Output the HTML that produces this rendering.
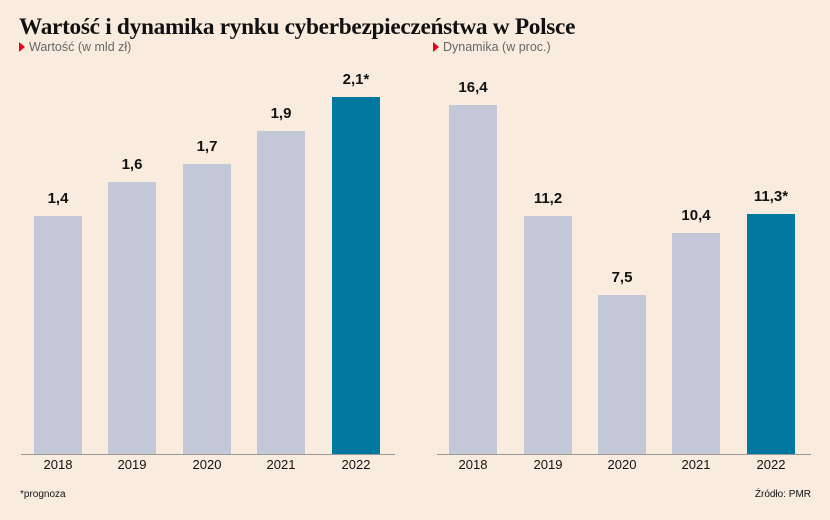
<!DOCTYPE html>
<html><head><meta charset="utf-8"><style>
html,body{margin:0;padding:0;}
body{width:830px;height:520px;background:#f9ecdf;position:relative;overflow:hidden;font-family:"Liberation Sans",sans-serif;}
.t{position:absolute;left:19px;top:14px;font-family:"Liberation Serif",serif;font-weight:bold;font-size:23.3px;color:#111;letter-spacing:-0.3px;white-space:nowrap;}
.s{position:absolute;top:40px;font-size:12.5px;color:#666;white-space:nowrap;}
.s:before{content:"";display:inline-block;width:0;height:0;border-left:6px solid #e30613;border-top:5px solid transparent;border-bottom:5px solid transparent;margin-right:4px;vertical-align:-1px;}
.b{position:absolute;width:48px;background:#c2c8d8;bottom:65px;}
.b.h{background:#00789f;}
.v{position:absolute;width:80px;text-align:center;font-weight:bold;font-size:15px;color:#111;}
.y{position:absolute;top:457px;width:80px;text-align:center;font-size:13px;color:#111;}
.ax{position:absolute;top:454px;height:1px;background:#999;}
.f{position:absolute;top:489px;font-size:10px;color:#111;}
</style></head><body>
<div class="t">Wartość i dynamika rynku cyberbezpieczeństwa w Polsce</div>
<div class="s" style="left:19px">Wartość (w mld zł)</div>
<div class="s" style="left:433px">Dynamika (w proc.)</div>

<div class="b" style="left:34px;top:216px"></div>
<div class="b" style="left:108px;top:182px"></div>
<div class="b" style="left:183px;top:164px"></div>
<div class="b" style="left:257px;top:131px"></div>
<div class="b h" style="left:332px;top:97px"></div>
<div class="v" style="left:18px;top:190px">1,4</div>
<div class="v" style="left:92px;top:156px">1,6</div>
<div class="v" style="left:167px;top:138px">1,7</div>
<div class="v" style="left:241px;top:105px">1,9</div>
<div class="v" style="left:316px;top:71px">2,1*</div>

<div class="b" style="left:449px;top:105px"></div>
<div class="b" style="left:524px;top:216px"></div>
<div class="b" style="left:598px;top:295px"></div>
<div class="b" style="left:672px;top:233px"></div>
<div class="b h" style="left:747px;top:214px"></div>
<div class="v" style="left:433px;top:79px">16,4</div>
<div class="v" style="left:508px;top:190px">11,2</div>
<div class="v" style="left:582px;top:269px">7,5</div>
<div class="v" style="left:656px;top:207px">10,4</div>
<div class="v" style="left:731px;top:188px">11,3*</div>

<div class="ax" style="left:21px;width:374px"></div>
<div class="ax" style="left:437px;width:374px"></div>

<div class="y" style="left:18px">2018</div>
<div class="y" style="left:92px">2019</div>
<div class="y" style="left:167px">2020</div>
<div class="y" style="left:241px">2021</div>
<div class="y" style="left:316px">2022</div>
<div class="y" style="left:433px">2018</div>
<div class="y" style="left:508px">2019</div>
<div class="y" style="left:582px">2020</div>
<div class="y" style="left:656px">2021</div>
<div class="y" style="left:731px">2022</div>

<div class="f" style="left:20px">*prognoza</div>
<div class="f" style="right:19px">Źródło: PMR</div>
</body></html>
